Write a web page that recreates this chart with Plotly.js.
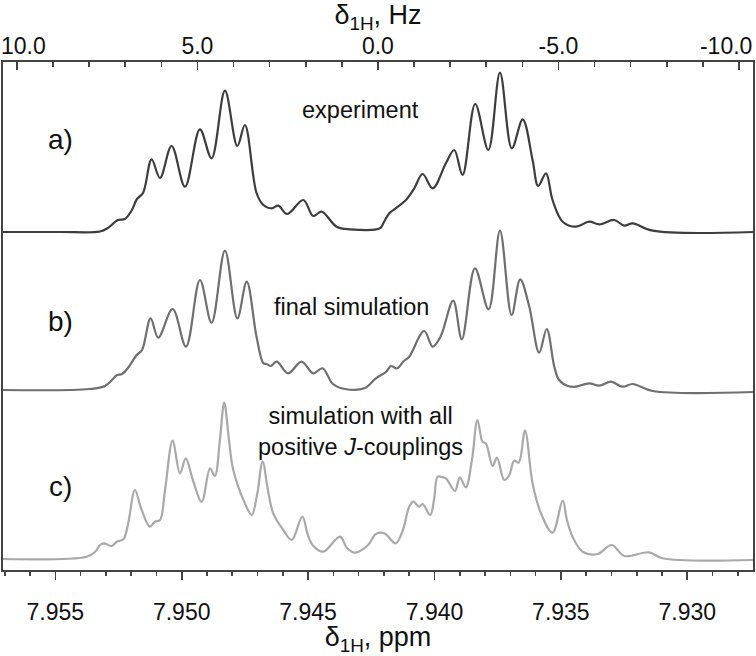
<!DOCTYPE html>
<html><head><meta charset="utf-8">
<script src="https://cdn.plot.ly/plotly-3.0.1.min.js"></script>
<style>html,body{margin:0;padding:0;background:#fff}</style>
</head><body><div id="chart" style="width:756px;height:656px"></div>
<script>
// a) experiment
const ppmA = [7.95707,7.95482,7.95323,7.95292,7.95252,7.95225,7.95197,7.95177,7.95153,7.95119,7.95086,7.95040,7.94987,7.94928,7.94882,7.94829,7.94780,7.94750,7.94704,7.94677,7.94644,7.94618,7.94583,7.94519,7.94480,7.94447,7.94387,7.94335,7.94216,7.94200,7.94179,7.94168,7.94113,7.94080,7.94047,7.94007,7.93955,7.93922,7.93889,7.93839,7.93787,7.93741,7.93694,7.93651,7.93612,7.93590,7.93559,7.93533,7.93493,7.93441,7.93388,7.93348,7.93289,7.93249,7.93216,7.93137,7.92740];
const intA = [0,0,0.5,4,12,13,22,33,39,72.7,54,86,45.3,102.7,73.7,141.3,86,107,39,27,23.7,26.3,18,32,16,20.3,5.3,2.7,3.7,10,18.7,21,32,43.7,58,43.7,68.7,82,57,128,82,159.3,83.7,112.7,72,46,58.7,32,10.3,5.3,10.3,7.7,12,6.3,8.7,1.3,0];
// b) final simulation
const ppmB = [7.95707,7.95363,7.95304,7.95272,7.95256,7.95236,7.95213,7.95178,7.95157,7.95123,7.95093,7.95036,7.94983,7.94928,7.94882,7.94829,7.94780,7.94743,7.94704,7.94677,7.94664,7.94648,7.94624,7.94579,7.94526,7.94480,7.94443,7.94402,7.94354,7.94275,7.94232,7.94192,7.94172,7.94149,7.94121,7.94100,7.94041,7.94007,7.93975,7.93926,7.93892,7.93840,7.93786,7.93741,7.93695,7.93661,7.93625,7.93586,7.93556,7.93526,7.93507,7.93472,7.93441,7.93388,7.93348,7.93302,7.93256,7.93216,7.93137,7.92740];
const intB = [1,2,5,12,16,17,23,36,41,72.7,53.3,82,44.3,111,68.3,140.3,72.7,109.3,54.3,27.7,27,25,29.3,17.7,29.3,17.7,22.7,7,2,3,12.7,19,25,22.5,30,34.3,60,44.3,55,90.3,51.7,122.7,81.7,160.3,76,111.7,84.3,38.3,62,24.3,11,5,4.3,7.7,5.3,9.3,4.3,7,0,-1];
// c) simulation with all positive J-couplings
const ppmC = [7.95707,7.95376,7.95343,7.95323,7.95308,7.95277,7.95257,7.95231,7.95213,7.95185,7.95161,7.95126,7.95106,7.95086,7.95066,7.95036,7.95007,7.94984,7.94956,7.94921,7.94888,7.94869,7.94849,7.94832,7.94813,7.94796,7.94750,7.94723,7.94702,7.94680,7.94659,7.94638,7.94598,7.94565,7.94523,7.94501,7.94480,7.94440,7.94374,7.94346,7.94315,7.94263,7.94232,7.94199,7.94153,7.94125,7.94100,7.94084,7.94060,7.94047,7.94017,7.94002,7.93988,7.93975,7.93955,7.93919,7.93900,7.93876,7.93852,7.93830,7.93810,7.93797,7.93770,7.93753,7.93724,7.93704,7.93685,7.93667,7.93642,7.93612,7.93579,7.93533,7.93493,7.93476,7.93454,7.93414,7.93355,7.93299,7.93249,7.93151,7.93098,7.92740];
const intC = [0,2.3,7,14,15.7,13,17.3,19.7,34,69,51,32.3,37.3,39,69,118.3,85.7,100.7,79,57.3,90.7,83,119,156.3,119,89,55.7,44,64,97.3,69,45.7,29,19,42.3,24,13.3,7.3,22.3,11,6.3,14,25,25.7,15.7,29,52.3,57.3,52.3,55,44,59,82.3,82.3,80.7,68,81.7,71.7,99,139,117.3,115.7,93,101.3,79,84,98.3,96.3,128.3,75.7,45.7,26.3,58.3,39,22.3,7.3,5,14,3,6.7,0.7,-1];

const seriesPpm = [ppmA, ppmB, ppmC];
const seriesInt = [intA, intB, intC];
const offsets = [327, 168, 0];
const colors = ['#3d3d3d', '#6f6f6f', '#a9a9a9'];

// spectrometer frequency (MHz) and 0 Hz reference (ppm) for the top axis
const specMHz = 700;
const refPpm = 7.94226;

const ppmTicks = [7.955, 7.950, 7.945, 7.940, 7.935, 7.930];
const ppmTickText = ['7.955', '7.950', '7.945', '7.940', '7.935', '7.930'];
const hzTicks = [10, 5, 0, -5, -10];
const hzTickText = ['\u00a0\u00a010.0', '5.0', '0.0', '-5.0', '-10.0\u00a0\u00a0\u00a0\u00a0'];

const traces = seriesPpm.map((xs, i) => ({
  x: xs,
  y: seriesInt[i].map(v => v + offsets[i]),
  type: 'scatter', mode: 'lines',
  line: {color: colors[i], width: 2.2, shape: 'spline', smoothing: 1},
  hoverinfo: 'skip', showlegend: false
}));
// same experimental spectrum expressed in Hz, bound to the top axis (transparent)
traces.push({
  x: ppmA.map(p => (p - refPpm) * specMHz),
  y: intA.map(v => v + offsets[0]),
  xaxis: 'x2', type: 'scatter', mode: 'lines',
  line: {color: colors[0], width: 2.2, shape: 'spline'},
  opacity: 0, hoverinfo: 'skip', showlegend: false
});

const axisCol = '#444';
const layout = {
  width: 756, height: 656,
  margin: {l: 3, r: 3, t: 62, b: 86},
  paper_bgcolor: '#fff', plot_bgcolor: '#fff',
  showlegend: false,
  font: {family: 'Liberation Sans, Arial, sans-serif', color: '#111', size: 23},
  xaxis: {
    range: [7.95707, 7.92740],
    tickmode: 'array', tickvals: ppmTicks, ticktext: ppmTickText,
    ticks: 'outside', ticklen: 8, tickwidth: 1.6, tickcolor: axisCol,
    minor: {tickmode: 'linear', tick0: 7.955, dtick: 0.001, ticks: 'outside', ticklen: 4, tickwidth: 1.6, tickcolor: axisCol, showgrid: false},
    showline: true, linecolor: axisCol, linewidth: 1.6, mirror: true,
    showgrid: false, zeroline: false,
    tickfont: {size: 23}, ticklabelstandoff: 13,
    title: {text: 'δ<sub>1H</sub>, ppm', font: {size: 27}, standoff: 8}
  },
  xaxis2: {
    overlaying: 'x', side: 'top', anchor: 'y',
    range: [10.385, -10.39],
    tickmode: 'array', tickvals: hzTicks, ticktext: hzTickText,
    ticks: 'inside', ticklen: 8, tickwidth: 1.6, tickcolor: axisCol,
    minor: {tickmode: 'linear', tick0: 0, dtick: 1, ticks: 'inside', ticklen: 5, tickwidth: 1.6, tickcolor: axisCol, showgrid: false},
    showline: false, showgrid: false, zeroline: false,
    ticklabeloverflow: 'allow',
    tickfont: {size: 23}, ticklabelstandoff: 2,
    title: {text: 'δ<sub>1H</sub>, Hz', font: {size: 27}, standoff: 10}
  },
  yaxis: {
    range: [-11, 497], showticklabels: false, ticks: '',
    showline: true, linecolor: axisCol, linewidth: 1.6, mirror: true,
    showgrid: false, zeroline: false
  },
  annotations: [
    {text: 'a)', x: 0.0773, y: 0.8465},
    {text: 'b)', x: 0.0773, y: 0.490},
    {text: 'c)', x: 0.0773, y: 0.165},
  ].map(a => Object.assign(a, {xref: 'paper', yref: 'paper', xanchor: 'center', yanchor: 'middle', showarrow: false, font: {size: 28, color: '#111'}}))
  .concat([
    {text: 'experiment', x: 0.476, y: 0.9055},
    {text: 'final simulation', x: 0.464, y: 0.5177},
    {text: 'simulation with all<br>positive <i>J</i>-couplings', x: 0.476, y: 0.2736}
  ].map(a => Object.assign(a, {xref: 'paper', yref: 'paper', xanchor: 'center', yanchor: 'middle', showarrow: false, font: {size: 23.5, color: '#111'}})))
};

Plotly.newPlot('chart', traces, layout, {displayModeBar: false, staticPlot: true});
</script>
</body></html>
